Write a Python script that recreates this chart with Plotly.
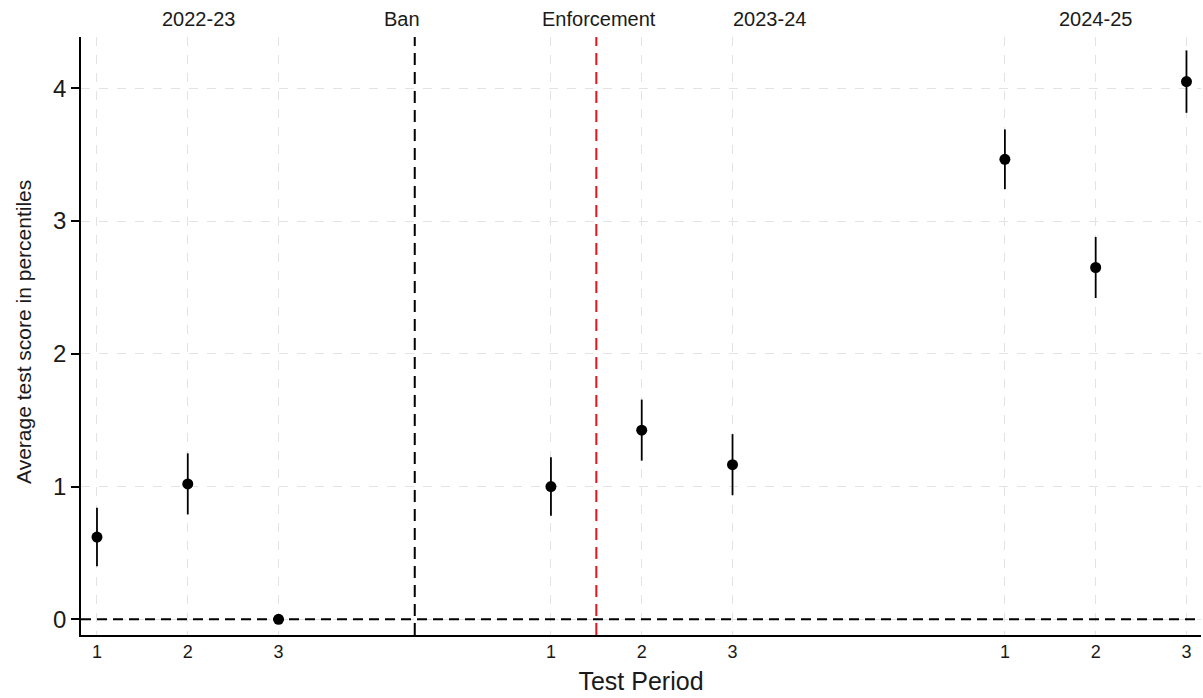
import plotly.graph_objects as go

# Test-period positions on the x axis (three school years, gaps between them)
period_pos = [1, 2, 3, 6, 7, 8, 11, 12, 13]
period_labels = ["1", "2", "3", "1", "2", "3", "1", "2", "3"]

# Point estimates and 95% CI half-widths (percentile points)
estimates = [0.62, 1.02, 0.0, 1.00, 1.425, 1.165, 3.465, 2.65, 4.05]
ci_half = [0.22, 0.23, 0.0, 0.22, 0.23, 0.23, 0.225, 0.23, 0.235]

# Event markers
ban_x = 4.5
enforcement_x = 6.5

# Header labels along the top of the panel
header_text = ["2022-23", "Ban", "Enforcement", "2023-24", "2024-25"]
header_x = [2.12, 4.36, 6.53, 8.41, 12.0]

y_ticks = [0, 1, 2, 3, 4]

FONT = "Liberation Sans, Arial, sans-serif"
INK = "#1a1a1a"

fig = go.Figure()

fig.add_trace(go.Scatter(
    x=period_pos,
    y=estimates,
    mode="markers",
    marker=dict(color="black", size=11),
    error_y=dict(type="data", array=ci_half, symmetric=True,
                 color="black", thickness=1.8, width=0),
    showlegend=False,
    hoverinfo="skip",
))

shapes = [
    # horizontal reference line at zero
    dict(type="line", xref="paper", yref="y", x0=0, x1=1, y0=0, y1=0,
         line=dict(color="black", width=2, dash="10px,6px"), layer="above"),
    # ban
    dict(type="line", xref="x", yref="paper", x0=ban_x, x1=ban_x, y0=0, y1=1,
         line=dict(color="black", width=2, dash="12px,7px"), layer="above"),
    # enforcement
    dict(type="line", xref="x", yref="paper", x0=enforcement_x, x1=enforcement_x,
         y0=0, y1=1,
         line=dict(color="#e0161c", width=2, dash="12px,7px"), layer="above"),
]

annotations = [
    dict(text=t, x=x, xref="x", y=1, yref="paper", yshift=18,
         xanchor="center", yanchor="middle", showarrow=False,
         font=dict(family=FONT, size=20, color=INK))
    for t, x in zip(header_text, header_x)
]

# y-axis title, placed close to the left edge
annotations.append(dict(
    text="Average test score in percentiles",
    x=0, xref="paper", xshift=-58, y=0.5, yref="paper", yshift=4,
    xanchor="center", yanchor="middle", textangle=-90, showarrow=False,
    font=dict(family=FONT, size=21, color=INK),
))

fig.update_layout(
    width=1203,
    height=698,
    margin=dict(l=81, r=2, t=37, b=63),
    paper_bgcolor="white",
    plot_bgcolor="white",
    font=dict(family=FONT, color=INK),
    shapes=shapes,
    annotations=annotations,
    xaxis=dict(
        range=[0.824, 13.16],
        tickmode="array",
        tickvals=period_pos,
        ticktext=period_labels,
        ticks="",
        tickfont=dict(size=18, color=INK),
        showline=True, linecolor="black", linewidth=1.5,
        showgrid=True, gridcolor="#e3e3e3", gridwidth=1, griddash="dash",
        zeroline=False,
        title=dict(text="Test Period", font=dict(size=25, color=INK), standoff=11),
    ),
    yaxis=dict(
        range=[-0.118, 4.386],
        tickmode="array",
        tickvals=y_ticks,
        ticks="outside", ticklen=8, tickwidth=1.5, tickcolor="black",
        tickfont=dict(size=24, color=INK),
        showline=True, linecolor="black", linewidth=1.5,
        showgrid=True, gridcolor="#e3e3e3", gridwidth=1, griddash="dash",
        zeroline=False,
    ),
)

fig.write_html("out.html")
